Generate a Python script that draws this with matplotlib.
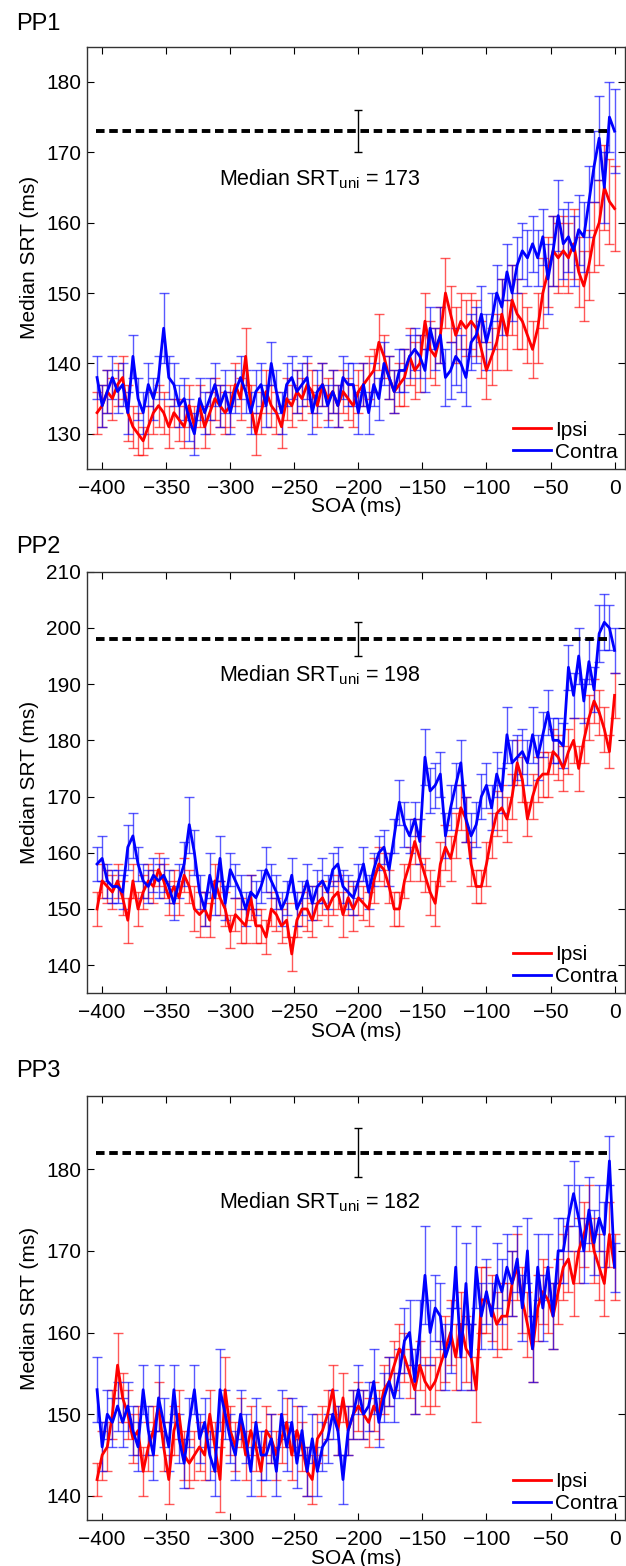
import numpy as np
import matplotlib
matplotlib.use('Agg')
import matplotlib.pyplot as plt

plt.rcParams['font.family'] = ['Liberation Sans', 'DejaVu Sans']
plt.rcParams['mathtext.default'] = 'regular'

# SOA axis (ms)
SOA = np.arange(-404, 1, 4)

# ---------------- PP1 ----------------
P1_IPSI = [133, 134, 136, 135, 137, 138, 133, 131, 130, 129,
           131, 133, 134, 133, 131, 133, 132, 131, 134, 131,
           134, 131, 133, 135, 134, 133, 134, 137, 135, 141,
           134, 130, 133, 136, 134, 133, 131, 135, 134, 136,
           135, 137, 136, 134, 137, 135, 136, 134, 136, 135,
           134, 136, 137, 138, 139, 143, 141, 138, 136, 137,
           138, 141, 139, 140, 146, 142, 141, 144, 150, 147,
           144, 146, 145, 146, 145, 142, 139, 141, 143, 147,
           144, 149, 147, 146, 144, 142, 145, 150, 153, 156,
           155, 156, 155, 157, 153, 151, 154, 158, 160, 165,
           163, 162]
P1_IPSI_ERR = [3, 3, 3, 3, 3, 3, 4, 3, 3, 2,
               3, 3, 3, 3, 3, 2, 3, 3, 3, 3,
               3, 3, 3, 3, 3, 3, 3, 3, 3, 4,
               3, 3, 3, 3, 3, 3, 3, 3, 3, 3,
               3, 3, 3, 3, 3, 3, 3, 3, 3, 3,
               3, 3, 3, 3, 3, 4, 3, 3, 3, 3,
               4, 4, 4, 4, 4, 4, 4, 4, 5, 4,
               4, 4, 4, 4, 4, 4, 4, 4, 4, 5,
               5, 5, 5, 4, 4, 4, 5, 5, 5, 5,
               5, 5, 5, 5, 5, 5, 5, 5, 6, 6,
               6, 6]
P1_CONTRA = [138, 134, 136, 138, 136, 137, 133, 141, 135, 133,
             137, 135, 138, 145, 138, 137, 134, 135, 132, 130,
             135, 133, 135, 137, 134, 136, 133, 136, 138, 136,
             133, 136, 137, 134, 140, 136, 133, 137, 138, 136,
             137, 138, 133, 136, 137, 134, 136, 134, 138, 137,
             137, 133, 137, 133, 137, 135, 140, 138, 136, 139,
             139, 141, 142, 141, 139, 145, 142, 144, 138, 139,
             141, 140, 138, 143, 144, 147, 143, 146, 150, 148,
             153, 150, 154, 156, 155, 157, 155, 158, 152, 156,
             161, 157, 158, 156, 159, 158, 163, 168, 172, 165,
             175, 173]
P1_CONTRA_ERR = [3, 3, 3, 3, 3, 3, 3, 3, 3, 3,
                 3, 3, 3, 5, 3, 3, 3, 3, 3, 3,
                 3, 3, 3, 3, 3, 3, 3, 3, 3, 3,
                 3, 3, 3, 3, 3, 3, 3, 3, 3, 3,
                 3, 3, 3, 3, 3, 3, 3, 3, 3, 3,
                 3, 3, 3, 3, 3, 3, 3, 3, 3, 3,
                 3, 3, 3, 3, 3, 3, 3, 4, 4, 4,
                 4, 4, 4, 4, 4, 4, 4, 4, 4, 4,
                 4, 4, 4, 4, 4, 4, 4, 4, 5, 5,
                 5, 5, 5, 5, 5, 5, 5, 5, 6, 5,
                 5, 6]

# ---------------- PP2 ----------------
P2_IPSI = [150, 155, 154, 153, 155, 152, 148, 155, 150, 153,
           155, 154, 157, 155, 152, 154, 152, 156, 154, 150,
           149, 150, 148, 155, 152, 150, 146, 149, 148, 147,
           152, 147, 147, 145, 150, 149, 147, 148, 142, 148,
           150, 150, 148, 151, 152, 150, 152, 153, 149, 152,
           150, 152, 151, 150, 155, 158, 157, 154, 150, 150,
           155, 158, 162, 159, 156, 153, 151, 158, 161, 159,
           163, 168, 166, 158, 154, 154, 158, 163, 167, 168,
           166, 170, 176, 173, 166, 170, 173, 174, 174, 178,
           177, 175, 178, 180, 175, 180, 184, 187, 185, 182,
           178, 188]
P2_IPSI_ERR = [3, 3, 3, 3, 3, 3, 4, 3, 3, 3,
               3, 3, 3, 3, 3, 3, 3, 3, 3, 4,
               4, 3, 3, 3, 3, 3, 3, 3, 4, 3,
               4, 3, 3, 3, 3, 3, 3, 3, 3, 3,
               3, 4, 3, 3, 3, 3, 3, 3, 4, 3,
               4, 3, 3, 3, 4, 3, 3, 3, 3, 3,
               3, 3, 4, 4, 3, 4, 4, 4, 4, 4,
               4, 4, 4, 4, 3, 3, 4, 4, 4, 4,
               4, 4, 4, 4, 3, 4, 4, 4, 4, 4,
               4, 4, 4, 4, 4, 4, 4, 4, 4, 4,
               3, 4]
P2_CONTRA = [158, 159, 155, 154, 154, 153, 161, 163, 158, 155,
             154, 156, 155, 156, 154, 151, 155, 158, 165, 160,
             153, 150, 156, 152, 159, 151, 157, 155, 153, 150,
             153, 152, 154, 157, 155, 153, 150, 152, 156, 150,
             152, 155, 151, 154, 155, 153, 157, 158, 154, 153,
             152, 155, 158, 153, 157, 160, 161, 157, 163, 169,
             165, 163, 166, 162, 177, 171, 172, 174, 163, 168,
             172, 176, 166, 163, 165, 170, 172, 168, 174, 171,
             181, 176, 177, 178, 176, 181, 177, 181, 185, 180,
             180, 179, 193, 188, 195, 187, 194, 189, 199, 201,
             200, 196]
P2_CONTRA_ERR = [3, 4, 3, 3, 3, 3, 4, 4, 3, 3,
                 3, 3, 3, 3, 3, 3, 3, 4, 5, 4,
                 3, 3, 4, 3, 4, 3, 3, 3, 3, 3,
                 3, 3, 3, 4, 3, 3, 3, 3, 3, 3,
                 3, 3, 3, 3, 4, 3, 3, 3, 3, 3,
                 3, 3, 3, 3, 3, 3, 3, 3, 3, 4,
                 4, 3, 3, 4, 5, 4, 4, 4, 4, 4,
                 4, 4, 4, 4, 4, 4, 4, 4, 4, 4,
                 5, 4, 4, 4, 4, 5, 4, 4, 4, 4,
                 4, 4, 4, 4, 5, 4, 4, 4, 5, 5,
                 4, 4]

# ---------------- PP3 ----------------
P3_IPSI = [142, 145, 146, 150, 156, 152, 150, 147, 148, 143,
           146, 148, 151, 146, 142, 148, 150, 145, 144, 145,
           146, 145, 150, 146, 142, 153, 148, 146, 149, 145,
           148, 146, 143, 148, 147, 145, 147, 149, 145, 148,
           146, 143, 142, 147, 148, 150, 153, 148, 152, 148,
           150, 151, 150, 149, 151, 150, 153, 154, 156, 158,
           157, 155, 153, 156, 154, 153, 154, 156, 158, 160,
           157, 161, 158, 157, 153, 164, 164, 163, 161, 162,
           162, 166, 168, 164, 161, 158, 163, 165, 164, 162,
           165, 168, 169, 166, 170, 172, 174, 170, 168, 166,
           172, 168]
P3_IPSI_ERR = [2, 3, 3, 3, 4, 3, 3, 3, 3, 3,
               3, 3, 3, 3, 3, 3, 3, 3, 3, 3,
               3, 3, 3, 3, 4, 4, 3, 3, 3, 3,
               3, 3, 3, 3, 3, 3, 3, 3, 3, 3,
               3, 3, 3, 3, 3, 3, 3, 3, 3, 3,
               3, 3, 3, 3, 3, 3, 3, 3, 3, 3,
               3, 3, 3, 3, 3, 3, 3, 3, 4, 4,
               4, 4, 4, 4, 4, 4, 4, 4, 4, 4,
               4, 4, 4, 4, 4, 4, 4, 4, 4, 4,
               4, 4, 4, 4, 4, 4, 4, 4, 4, 4,
               4, 4]
P3_CONTRA = [153, 146, 150, 149, 151, 149, 151, 148, 146, 153,
             148, 145, 152, 149, 146, 153, 147, 144, 149, 153,
             147, 149, 145, 143, 153, 150, 147, 145, 150, 147,
             143, 149, 145, 145, 147, 143, 150, 146, 149, 144,
             148, 143, 147, 143, 146, 147, 150, 148, 142, 148,
             150, 153, 150, 151, 154, 149, 152, 154, 152, 155,
             159, 160, 154, 160, 167, 160, 163, 162, 157, 159,
             168, 157, 166, 157, 168, 162, 165, 162, 167, 165,
             168, 166, 169, 163, 170, 158, 168, 163, 168, 162,
             170, 170, 174, 177, 174, 170, 175, 171, 174, 172,
             181, 168]
P3_CONTRA_ERR = [4, 3, 3, 3, 3, 3, 3, 3, 3, 3,
                 3, 3, 4, 3, 3, 3, 3, 3, 3, 3,
                 3, 3, 3, 3, 5, 3, 3, 3, 3, 3,
                 3, 3, 3, 3, 3, 3, 3, 3, 3, 3,
                 3, 3, 3, 3, 3, 3, 3, 3, 3, 3,
                 3, 3, 3, 3, 4, 3, 3, 3, 3, 3,
                 4, 4, 4, 4, 6, 4, 4, 4, 4, 4,
                 5, 4, 5, 4, 5, 4, 4, 4, 4, 4,
                 4, 4, 4, 4, 4, 4, 4, 4, 4, 4,
                 4, 4, 4, 4, 4, 4, 4, 4, 4, 4,
                 3, 3]

TITLES = ['PP1', 'PP2', 'PP3']
MEDIAN_UNI = [173, 198, 182]
MEDIAN_UNI_ERR = [3, 3, 3]
YLIMS = [(125, 185), (135, 210), (137, 189)]
YTICKS = [[130, 140, 150, 160, 170, 180],
          [140, 150, 160, 170, 180, 190, 200, 210],
          [140, 150, 160, 170, 180]]
XTICKS = [-400, -350, -300, -250, -200, -150, -100, -50, 0]

IPSI = [P1_IPSI, P2_IPSI, P3_IPSI]
IPSI_ERR = [P1_IPSI_ERR, P2_IPSI_ERR, P3_IPSI_ERR]
CONTRA = [P1_CONTRA, P2_CONTRA, P3_CONTRA]
CONTRA_ERR = [P1_CONTRA_ERR, P2_CONTRA_ERR, P3_CONTRA_ERR]

W, H = 626, 1566
fig = plt.figure(figsize=(W / 100, H / 100), dpi=100)

# axes boxes in pixels: (top, bottom)
boxes = [(46.7, 469.0), (571.7, 993.3), (1095.6, 1520.4)]
title_base = [30, 552.7, 1077]
text_y = [165.3, 190.5, 175.2]
left_px, right_px = 86.8, 624.8

for i in range(3):
    top, bot = boxes[i]
    ax = fig.add_axes([left_px / W, 1 - bot / H, (right_px - left_px) / W, (bot - top) / H])
    ax.errorbar(SOA, IPSI[i], yerr=IPSI_ERR[i], fmt='none', ecolor=(1, 0, 0),
                elinewidth=1.0, capsize=3.5, capthick=1.0, alpha=0.65, zorder=2)
    ax.errorbar(SOA, CONTRA[i], yerr=CONTRA_ERR[i], fmt='none', ecolor=(0, 0, 1),
                elinewidth=1.0, capsize=3.5, capthick=1.0, alpha=0.65, zorder=3)
    ax.plot(SOA, IPSI[i], color=(1, 0, 0), lw=2.0, label='Ipsi', zorder=4)
    ax.plot(SOA, CONTRA[i], color=(0, 0, 1), lw=2.0, label='Contra', zorder=5)
    m = MEDIAN_UNI[i]
    ax.plot([-405, -3], [m, m], color='k', lw=2.8, ls=(0, (2.2, 1.2)), zorder=6)
    ax.errorbar([-200], [m], yerr=[MEDIAN_UNI_ERR[i]], fmt='none', ecolor='k',
                elinewidth=1.0, capsize=3, capthick=1.0, zorder=7)
    ax.text(-309, text_y[i], 'Median SRT$_{uni}$ = %d' % m, fontsize=15.5,
            ha='left', va='baseline', zorder=8)
    ax.set_xlim(-412, 8)
    ax.set_ylim(*YLIMS[i])
    ax.set_xticks(XTICKS)
    ax.set_xticklabels(['\u2212%d' % -t if t < 0 else '%d' % t for t in XTICKS])
    ax.set_yticks(YTICKS[i])
    ax.tick_params(direction='in', length=5, width=0.8, top=True, right=True,
                   labelsize=15)
    ax.tick_params(axis='x', pad=7)
    ax.tick_params(axis='y', pad=4)
    for s in ax.spines.values():
        s.set_linewidth(1.0)
        s.set_color('#333333')
    ax.set_xlabel('SOA (ms)', fontsize=15)
    ax.xaxis.label.set_va('center')
    ax.xaxis.set_label_coords(0.5, -(507 - 469) / (bot - top))
    ax.set_ylabel('Median SRT (ms)', fontsize=15)
    ax.yaxis.label.set_va('center')
    ax.yaxis.set_label_coords((30 - left_px) / (right_px - left_px), 0.5)
    ax.legend(loc='lower right', frameon=False, fontsize=15, handlelength=1.8,
              handletextpad=0.2, labelspacing=0.15, borderaxespad=0.15, borderpad=0.2)
    fig.text(16 / W, 1 - title_base[i] / H, TITLES[i], fontsize=17,
             ha='left', va='baseline')

fig.savefig('out.png', dpi=100)
